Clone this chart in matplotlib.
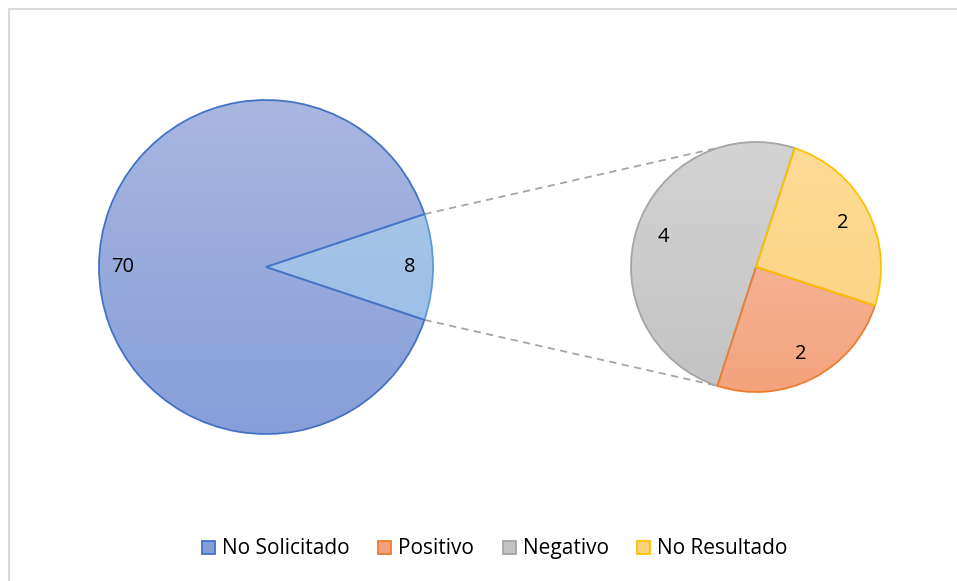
import numpy as np
import matplotlib
matplotlib.use("Agg")
import matplotlib.pyplot as plt
from matplotlib.colors import LinearSegmentedColormap
from matplotlib.patches import Rectangle

# datos del grafico
main_labels = ["Otros", "No Solicitado"]
main_values = [8, 70]
sub_labels = ["Negativo", "Positivo", "No Resultado"]
sub_values = [4, 2, 2]
legend_labels = ["No Solicitado", "Positivo", "Negativo", "No Resultado"]

# colores (arriba, abajo, borde)
colors = {
    "No Solicitado": ("#A8B7E0", "#879ED9", "#4472C4"),
    "Otros": ("#AFCBEA", "#94B9E4", "#5B9BD5"),
    "Negativo": ("#D3D3D3", "#C3C3C3", "#A5A5A5"),
    "Positivo": ("#F6C2AB", "#F4A27C", "#ED7D31"),
    "No Resultado": ("#FEDB96", "#FDD27C", "#FFC000"),
}

plt.rcParams["font.family"] = ["Open Sans", "DejaVu Sans"]

W, H = 957, 581
fig = plt.figure(figsize=(W / 100, H / 100), dpi=100)
ax = fig.add_axes([0, 0, 1, 1])

main_c, main_r = (266, H - 267), 167
sub_c, sub_r = (756, H - 267), 125


def fmt(vals):
    tot = sum(vals)
    return lambda p: f"{round(p * tot / 100):d}"


def gradient_pie(labels, values, center, radius, start, pctd):
    wedges, texts, autotexts = ax.pie(
        values, center=center, radius=radius, startangle=start,
        counterclock=True, autopct=fmt(values), pctdistance=pctd,
        wedgeprops=dict(linewidth=1.3), textprops=dict(fontsize=14.5, color="black"),
        frame=True)
    grad = np.linspace(0, 1, 256).reshape(-1, 1)
    cx, cy = center
    for w, lab in zip(wedges, labels):
        top, bot, edge = colors[lab]
        w.set_facecolor("none")
        w.set_edgecolor(edge)
        cmap = LinearSegmentedColormap.from_list(lab, [bot, top])
        im = ax.imshow(grad, cmap=cmap, origin="lower", aspect="auto",
                       extent=[cx - radius, cx + radius, cy - radius, cy + radius],
                       zorder=0.5)
        im.set_clip_path(w)
    return wedges


ang = 360 * main_values[0] / sum(main_values) / 2
gradient_pie(main_labels, main_values, main_c, main_r, -ang, 0.86)
gradient_pie(sub_labels, sub_values, sub_c, sub_r, 72, 0.78)

# lineas de conexion
for a_main, a_sub in [(ang, 107), (-ang, -108)]:
    x0 = main_c[0] + main_r * np.cos(np.radians(a_main))
    y0 = main_c[1] + main_r * np.sin(np.radians(a_main))
    x1 = sub_c[0] + sub_r * np.cos(np.radians(a_sub))
    y1 = sub_c[1] + sub_r * np.sin(np.radians(a_sub))
    ax.plot([x0, x1], [y0, y1], color="#A5A5A5", lw=1.3, ls=(0, (4, 3)), zorder=0.4)

# leyenda (cuadros + texto alineados por la linea base)
leg_x = [202, 378, 503, 637]
base_y = H - 554
for x, lab in zip(leg_x, legend_labels):
    top, bot, edge = colors[lab]
    ax.add_patch(Rectangle((x, base_y), 13, 13, facecolor=bot, edgecolor=edge, lw=1.3))
    ax.text(x + 20, base_y, lab, fontsize=15, va="baseline", ha="left")

# borde del area del grafico (recortado a derecha y abajo)
ax.plot([9, W], [H - 9, H - 9], color="#D9D9D9", lw=1.5, zorder=0.1)
ax.plot([9, 9], [0, H - 9], color="#D9D9D9", lw=1.5, zorder=0.1)

ax.set_xlim(0, W)
ax.set_ylim(0, H)
ax.set_aspect("equal")
ax.axis("off")

fig.savefig("out.png", dpi=100)
